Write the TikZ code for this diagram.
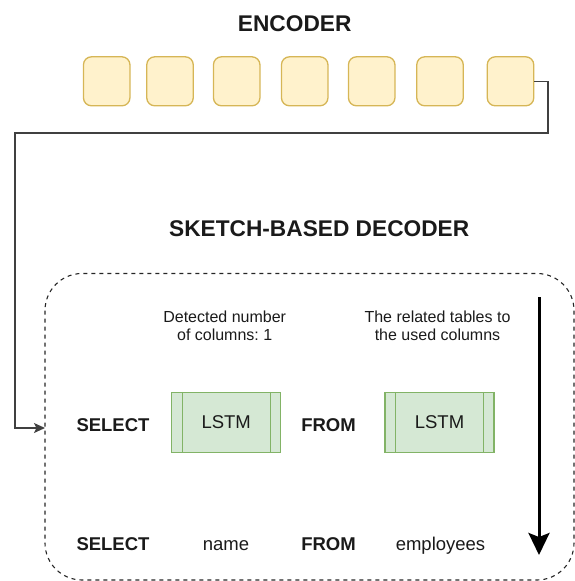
\documentclass[tikz,border=0pt]{standalone}
\usepackage{fontspec}
\setmainfont{Liberation Sans}
\usetikzlibrary{arrows.meta}
\frenchspacing
\definecolor{encfill}{HTML}{FFF2CC}
\definecolor{encdraw}{HTML}{D6B656}
\definecolor{lfill}{HTML}{D5E8D4}
\definecolor{ldraw}{HTML}{82B366}
\definecolor{txt}{HTML}{1A1A1A}
\tikzset{
  encbox/.style={draw=encdraw, fill=encfill, line width=1.3pt, rounded corners=8pt,
    minimum width=46.5pt, minimum height=49pt, inner sep=0pt},
  lstmbox/.style={draw=ldraw, fill=lfill, line width=1.2pt,
    minimum width=109pt, minimum height=60pt, inner sep=0pt,
    font=\fontsize{18.5}{20}\selectfont, text=txt},
  title/.style={font=\fontsize{22.7}{26}\selectfont\bfseries, text=txt, inner sep=0pt},
  kw/.style={font=\fontsize{18.5}{20}\selectfont\bfseries, text=txt, inner sep=0pt, anchor=base},
  word/.style={font=\fontsize{18.5}{20}\selectfont, text=txt, inner sep=0pt, anchor=base},
  desc/.style={font=\fontsize{16}{17.6}\selectfont, text=txt, align=center, inner sep=0pt},
  conn/.style={draw=black!75, line width=1.3pt},
}
\begin{document}
\begin{tikzpicture}[x=1pt, y=-1pt]
\useasboundingbox (0,0) rectangle (575,581);
% titles
\node[title] (enc) at (294.7,23.5) {ENCODER};
\node[title] (dec) at (319.2,229) {SKETCH-BASED DECODER};
% encoder boxes
\node[encbox] (e1) at (106.7,81.3) {};
\node[encbox] (e2) at (170.0,81.3) {};
\node[encbox] (e3) at (236.7,81.3) {};
\node[encbox] (e4) at (304.7,81.3) {};
\node[encbox] (e5) at (371.7,81.3) {};
\node[encbox] (e6) at (440.0,81.3) {};
\node[encbox] (e7) at (510.5,81.3) {};
% decoder dashed container
\draw[black!85, line width=1.1pt, dash pattern=on 4pt off 4pt, rounded corners=37pt]
  (45,273.5) rectangle (574,580);
\coordinate (din) at (45,428);
% connector encoder -> decoder
\draw[conn, -{Stealth[length=11pt,width=10pt,inset=2.5pt]}]
  (e7.east) -- (548,81.3) -- (548,133) -- (15,133) -- (15,428) -- (din);
% descriptions
\node[desc] (d1) at (224.7,325.5) {Detected number\\of columns: 1};
\node[desc] (d2) at (437.5,325.5) {The related tables to\\the used columns};
% row 1
\node[kw] (s1) at (113,431) {SELECT};
\node[lstmbox] (l1) at (226.2,422.5) {LSTM};
\draw[ldraw, line width=1.2pt] ([xshift=11pt]l1.north west) -- ([xshift=11pt]l1.south west);
\draw[ldraw, line width=1.2pt] ([xshift=-11pt]l1.north east) -- ([xshift=-11pt]l1.south east);
\node[kw] (f1) at (328.5,431) {FROM};
\node[lstmbox] (l2) at (439.5,422.5) {LSTM};
\draw[ldraw, line width=1.2pt] ([xshift=11pt]l2.north west) -- ([xshift=11pt]l2.south west);
\draw[ldraw, line width=1.2pt] ([xshift=-11pt]l2.north east) -- ([xshift=-11pt]l2.south east);
% row 2
\node[kw] (s2) at (113,550.5) {SELECT};
\node[word] (n2) at (226,550.5) {name};
\node[kw] (f2) at (328.5,550.5) {FROM};
\node[word] (em) at (440.5,550.5) {employees};
% time arrow
\coordinate (ta) at (539,297);
\coordinate (tb) at (539,555);
\draw[black, line width=3pt, -{Stealth[length=22pt,width=21pt,inset=4pt]}] (ta) -- (tb);
\end{tikzpicture}
\end{document}
